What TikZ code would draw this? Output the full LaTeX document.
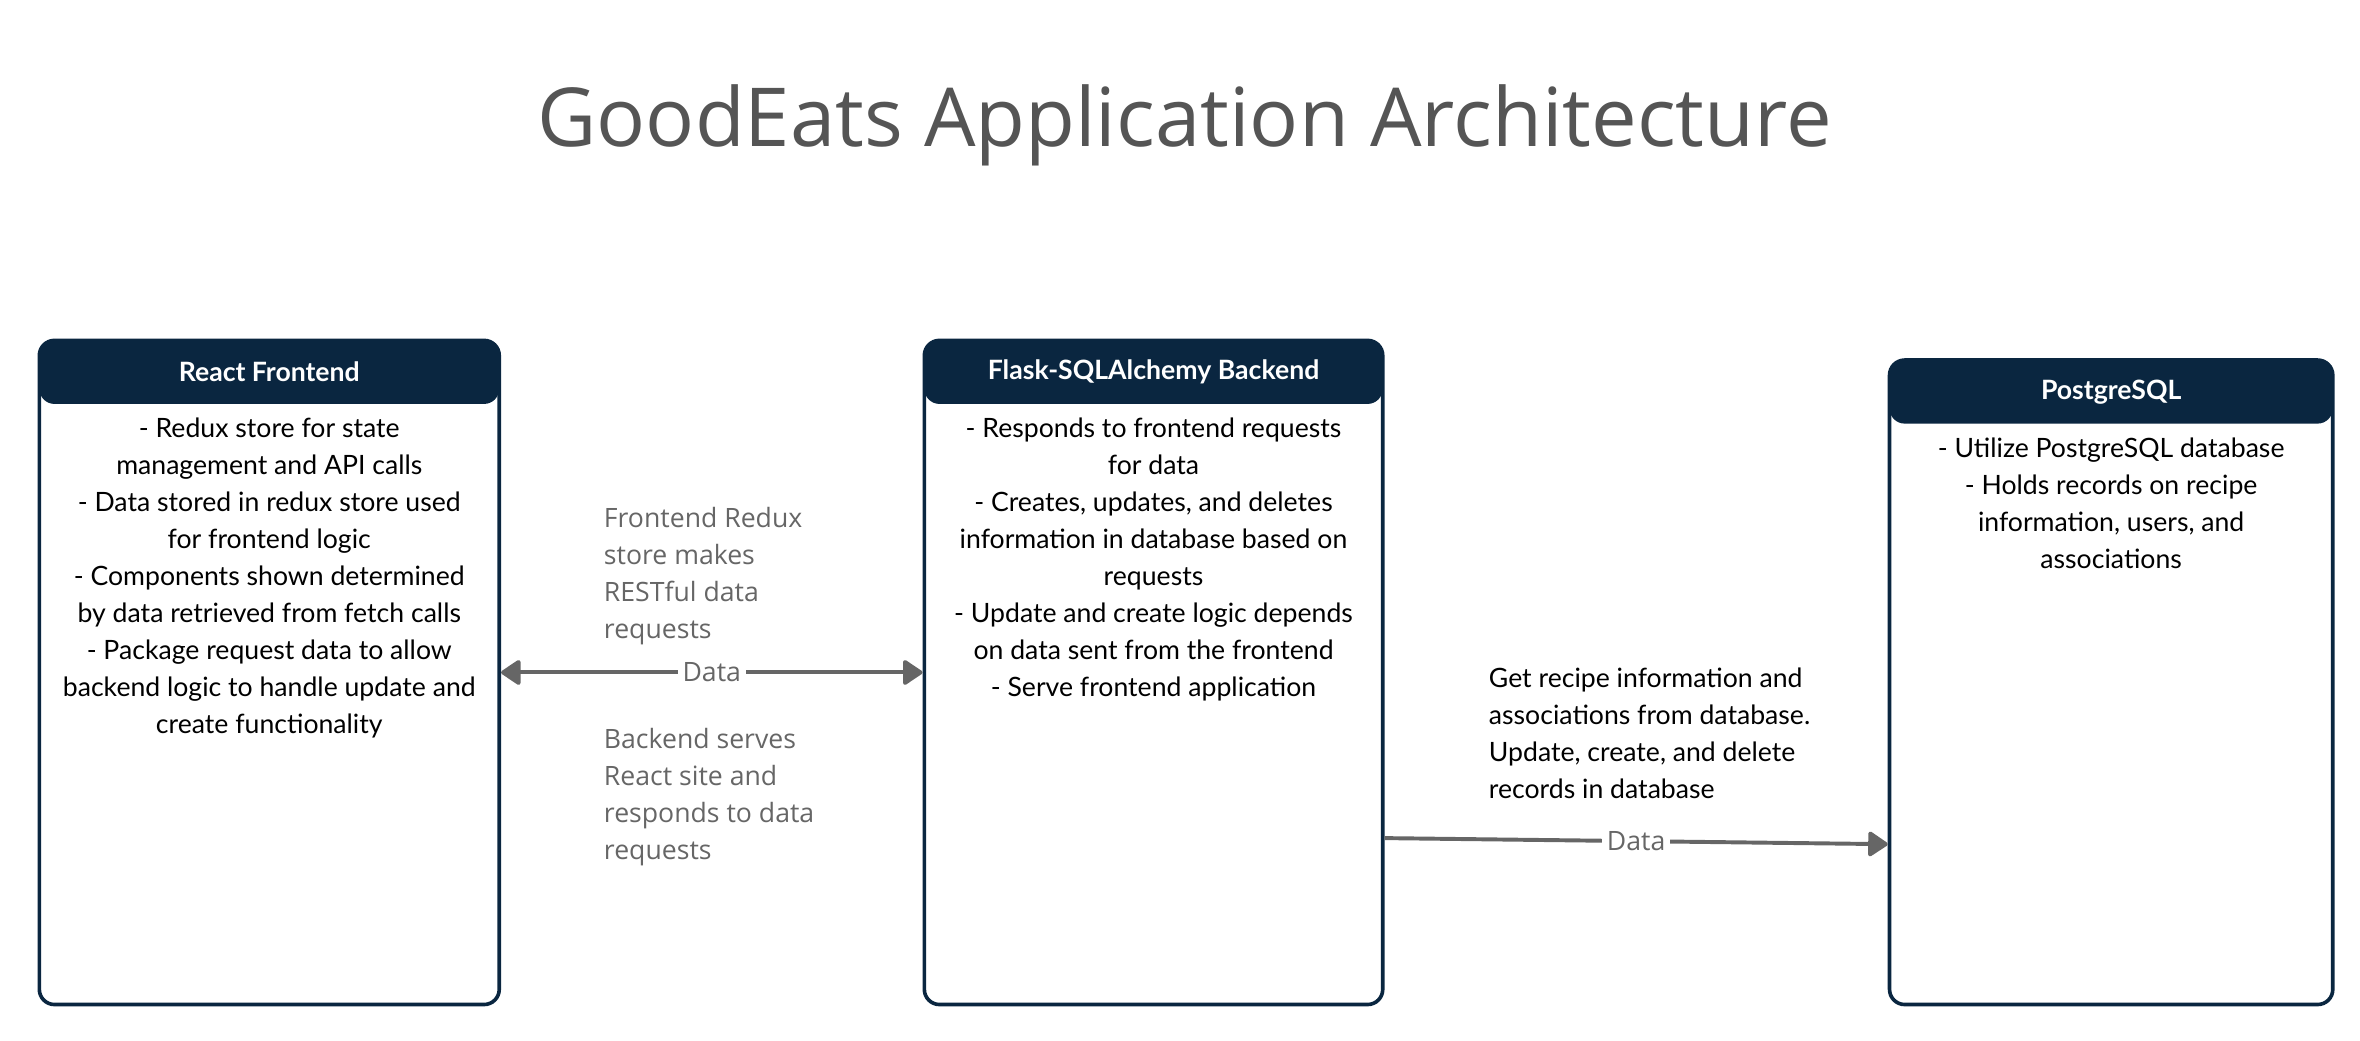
\documentclass[tikz,border=0pt]{standalone}
\usepackage{fontspec}
\setmainfont{Lato}
\newfontfamily\opensans{Open Sans}
\usetikzlibrary{arrows.meta}
\definecolor{navy}{HTML}{0A2640}
\definecolor{linkgray}{HTML}{666666}
\definecolor{titlegray}{HTML}{555555}

\tikzset{
  box/.style={draw=navy, line width=2.4pt, rounded corners=10pt, fill=white,
    minimum width=#1, inner sep=0pt,
    path picture={\fill[navy] (path picture bounding box.north west)
      rectangle ([yshift=-42pt]path picture bounding box.north east);}},
  hdr/.style={text=white, font=\fontsize{17.6}{20}\selectfont\bfseries, anchor=center},
  body/.style={align=center, anchor=north, inner sep=0pt,
    font=\fontsize{17.6}{24.5}\selectfont},
  note/.style={align=left, anchor=north west, inner sep=0pt, text=linkgray,
    font=\opensans\fontsize{17.6}{24.5}\selectfont},
  link/.style={draw=linkgray, line width=2.6pt,
    -{Triangle[length=14pt,width=18pt,round]}},
  tag/.style={fill=white, text=linkgray, inner sep=3pt,
    font=\opensans\fontsize{17.6}{20}\selectfont},
}

\begin{document}
\begin{tikzpicture}[x=1pt,y=-1pt]
    \useasboundingbox (0,0) rectangle (1560,688);

    % title
    \node[text=titlegray, font=\opensans\fontsize{53.8}{60}\selectfont] (title) at (783,83) {GoodEats Application Architecture};

    % the three boxes
    \node[box=304pt, minimum height=439pt] (react) at (178,444.5) {};
    \node[box=303pt, minimum height=439pt] (flask) at (762.5,444.5) {};
    \node[box=293pt, minimum height=426pt] (pg) at (1395.5,451) {};

    \node[hdr] (reacthd) at (178,246) {React Frontend};
    \node[hdr] (flaskhd) at (762.5,246) {Flask-SQLAlchemy Backend};
    \node[hdr] (pghd) at (1395.5,259) {PostgreSQL};

    \node[body] (reacttxt) at (178,276) {- Redux store for state\\management and API calls\\- Data stored in redux store used\\for frontend logic\\- Components shown determined\\by data retrieved from fetch calls\\- Package request data to allow\\backend logic to handle update and\\create functionality};
    \node[body] (flasktxt) at (762.5,276) {- Responds to frontend requests\\for data\\- Creates, updates, and deletes\\information in database based on\\requests\\- Update and create logic depends\\on data sent from the frontend\\- Serve frontend application};
    \node[body] (pgtxt) at (1395.5,289) {- Utilize PostgreSQL database\\- Holds records on recipe\\information, users, and\\associations};

    % notes beside the links
    \node[note] (reqnote) at (399,335) {Frontend Redux\\store makes\\RESTful data\\requests};
    \node[note] (servenote) at (399,481) {Backend serves\\React site and\\responds to data\\requests};
    \node[note, text=black, font=\fontsize{17.6}{24.5}\selectfont] (dbnote) at (984,441) {Get recipe information and\\associations from database.\\Update, create, and delete\\records in database};

    % links
    \draw[link, {Triangle[length=14pt,width=18pt,round]}-{Triangle[length=14pt,width=18pt,round]}] (react.east) -- node[tag, pos=0.5] {Data} (flask.west);
    \draw[link] ([yshift=-109.5pt]flask.east) -- node[tag, pos=0.5] {Data} ([yshift=-107pt]pg.west);
\end{tikzpicture}
\end{document}
